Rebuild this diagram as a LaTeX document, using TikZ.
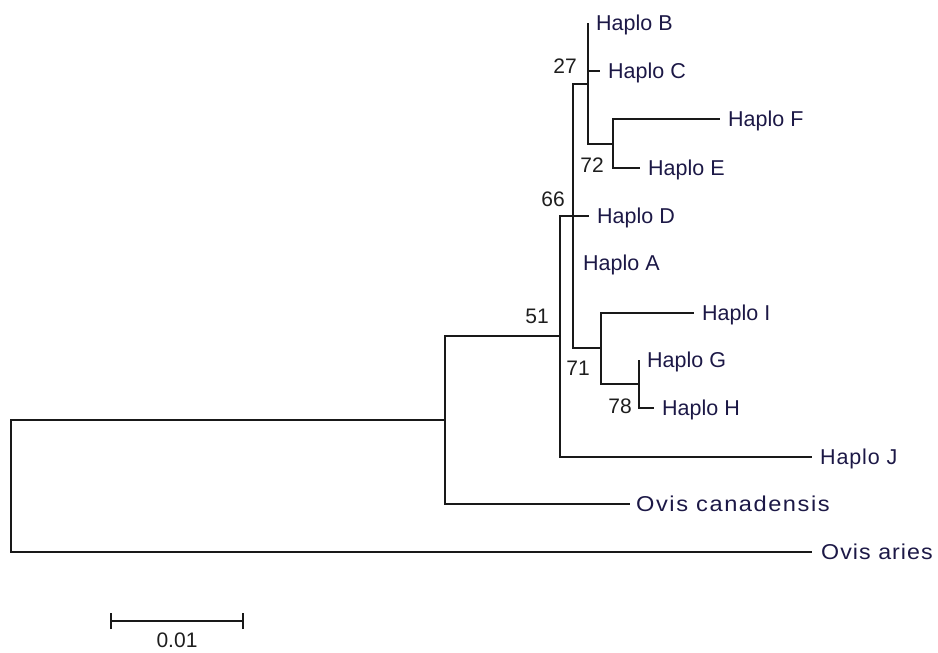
\documentclass[tikz,border=0pt]{standalone}
\usepackage{fontspec}
\setmainfont{Liberation Sans}
\definecolor{taxon}{RGB}{28,24,70}
\definecolor{supp}{RGB}{30,30,30}
\begin{document}
\begin{tikzpicture}[x=1pt,y=-1pt,
  branch/.style={draw=black!90,line width=2pt,line join=miter},
  taxlabel/.style={anchor=base west,inner sep=0pt,xshift=8pt,yshift=-7.8pt,text=taxon,font=\fontsize{21.5}{24}\selectfont},
  bootlabel/.style={anchor=center,inner sep=0pt,text=supp,font=\fontsize{21}{24}\selectfont}]
\useasboundingbox (0,0) rectangle (938,653);
% internal nodes
\coordinate (r) at (11,486);
\coordinate (n1) at (445,420);
\coordinate (n51) at (560,336);
\coordinate (n66) at (573,216);
\coordinate (n27) at (588,84);
\coordinate (n72) at (613,144);
\coordinate (n71) at (601,348);
\coordinate (n78) at (639,384);
% tips
\coordinate (tB) at (588,23);
\coordinate (tC) at (600,71);
\coordinate (tF) at (720,119);
\coordinate (tE) at (640,168);
\coordinate (tD) at (589,216);
\coordinate (tA) at (573,263);
\coordinate (tI) at (694,313);
\coordinate (tG) at (639,360);
\coordinate (tH) at (654,408);
\coordinate (tJ) at (812,457);
\coordinate (tCan) at (630,504);
\coordinate (tAri) at (812,552);
% branches
\draw[branch] (r) |- (n1);
\draw[branch] (r) |- (tAri);
\draw[branch] (n1) |- (n51);
\draw[branch] (n1) |- (tCan);
\draw[branch] (n51) |- (n66);
\draw[branch] (n51) |- (tJ);
\draw[branch] (n66) |- (n27);
\draw[branch] (n66) |- (tD);
\draw[branch] (n66) |- (tA);
\draw[branch] (n66) |- (n71);
\draw[branch] (n27) |- (tB);
\draw[branch] (n27) |- (tC);
\draw[branch] (n27) |- (n72);
\draw[branch] (n72) |- (tF);
\draw[branch] (n72) |- (tE);
\draw[branch] (n71) |- (tI);
\draw[branch] (n71) |- (n78);
\draw[branch] (n78) |- (tG);
\draw[branch] (n78) |- (tH);
% taxon labels
\node[taxlabel] (lB) at (tB) {Haplo B};
\node[taxlabel] (lC) at (tC) {Haplo C};
\node[taxlabel] (lF) at (tF) {Haplo F};
\node[taxlabel] (lE) at (tE) {Haplo E};
\node[taxlabel] (lD) at (tD) {Haplo D};
\node[taxlabel,xshift=2pt] (lA) at (tA) {Haplo A};
\node[taxlabel] (lI) at (tI) {Haplo I};
\node[taxlabel] (lG) at (tG) {Haplo G};
\node[taxlabel] (lH) at (tH) {Haplo H};
\node[taxlabel] (lJ) at (tJ) {\addfontfeature{LetterSpace=4}Haplo J};
\node[taxlabel,xshift=-2pt] (lCan) at (tCan) {\scalebox{1.1}[1]{\addfontfeature{LetterSpace=6.5}Ovis canadensis}};
\node[taxlabel,xshift=1pt] (lAri) at (tAri) {\scalebox{1.08}[1]{\addfontfeature{LetterSpace=4.5}Ovis aries}};
% bootstrap values
\node[bootlabel] (b27) at (565,66) {27};
\node[bootlabel] (b72) at (592,165) {72};
\node[bootlabel] (b66) at (553,199) {66};
\node[bootlabel] (b51) at (537,316) {51};
\node[bootlabel] (b71) at (578,368) {71};
\node[bootlabel] (b78) at (620,406) {78};
% scale bar
\coordinate (sL) at (111,621);
\coordinate (sR) at (243,621);
\draw[branch,line width=1.7pt] (sL) -- (sR);
\draw[branch,line width=1.7pt] ([yshift=-8]sL) -- ([yshift=8]sL);
\draw[branch,line width=1.7pt] ([yshift=-8]sR) -- ([yshift=8]sR);
\node[bootlabel] (sLab) at (177,640) {0.01};
\end{tikzpicture}
\end{document}
